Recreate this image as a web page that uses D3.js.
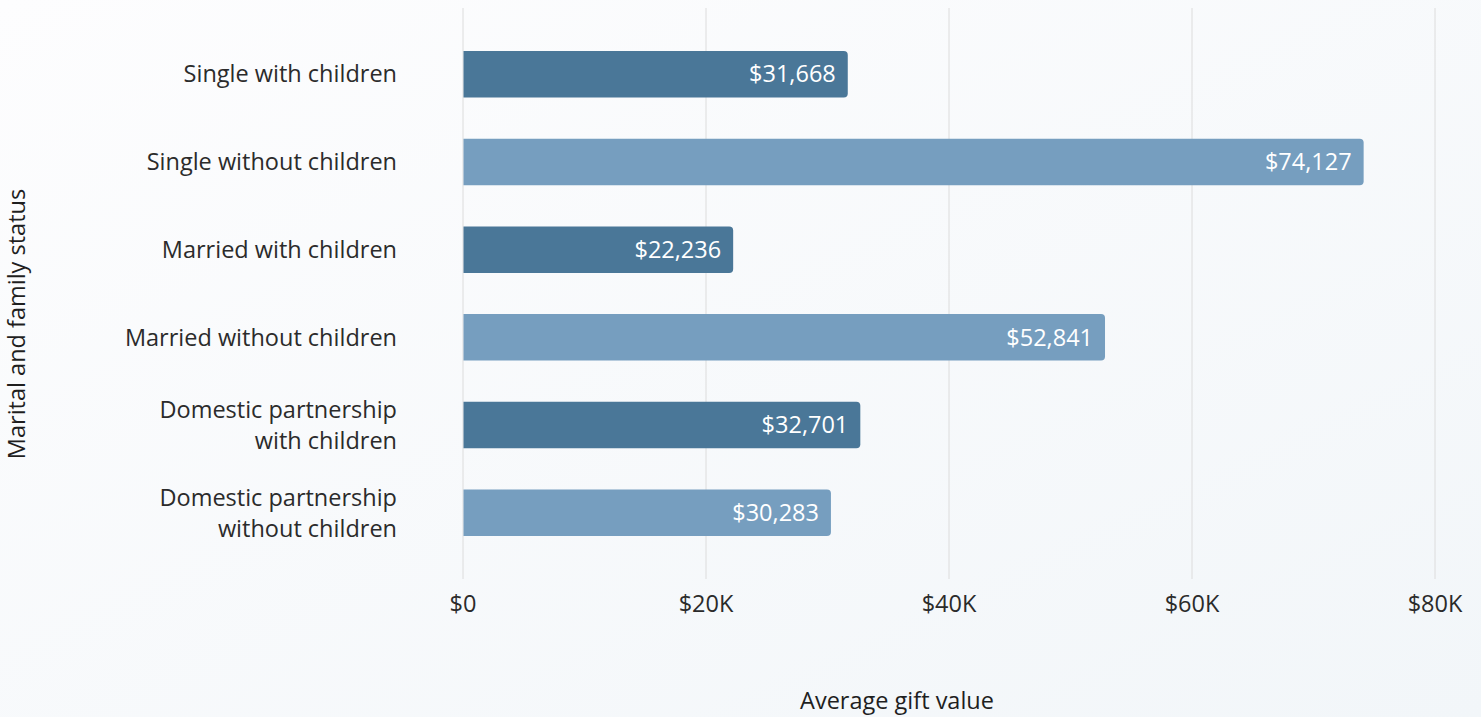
<!DOCTYPE html>
<html><head><meta charset="utf-8">
<script src="https://cdn.jsdelivr.net/npm/d3@7"></script>
<style>
html,body{margin:0;padding:0;}
body{width:1481px;height:717px;overflow:hidden;}
svg{display:block;}
</style></head>
<body>
<svg id="chart" width="1481" height="717"></svg>
<script>
const categories = [
  ["Single with children"],
  ["Single without children"],
  ["Married with children"],
  ["Married without children"],
  ["Domestic partnership", "with children"],
  ["Domestic partnership", "without children"]
];
const values = [31668, 74127, 22236, 52841, 32701, 30283];
const barColors = ["#4a7798", "#769ebf", "#4a7798", "#769ebf", "#4a7798", "#769ebf"];
const xTicks = [0, 20000, 40000, 60000, 80000];
const xTickLabels = ["$0", "$20K", "$40K", "$60K", "$80K"];
const xTitle = "Average gift value";
const yTitle = "Marital and family status";

const FONT = "'Open Sans', 'Noto Sans', sans-serif";
const FS = "23.5px";
const svg = d3.select("#chart");

const defs = svg.append("defs");
const grad = defs.append("linearGradient").attr("id","bg")
  .attr("x1","0").attr("y1","0").attr("x2","1").attr("y2","1");
grad.append("stop").attr("offset","0").attr("stop-color","#fdfdfe");
grad.append("stop").attr("offset","1").attr("stop-color","#f2f6f9");
svg.append("rect").attr("width",1481).attr("height",717).attr("fill","url(#bg)");

const x = d3.scaleLinear().domain([0, 80000]).range([463, 1435]);
const y = d3.scaleBand().domain(d3.range(categories.length)).range([8, 579])
  .paddingInner(0.47).paddingOuter(0.49);

// grid
svg.append("g").selectAll("line").data(xTicks).join("line")
  .attr("x1", d => x(d)).attr("x2", d => x(d))
  .attr("y1", 8).attr("y2", 579)
  .attr("stroke", "#dcdcdc").attr("stroke-width", 1);

// bars with rounded right corners
const r = 4;
function barPath(x0, x1, y0, h) {
  return `M${x0},${y0}H${x1 - r}Q${x1},${y0} ${x1},${y0 + r}V${y0 + h - r}Q${x1},${y0 + h} ${x1 - r},${y0 + h}H${x0}Z`;
}
svg.append("g").selectAll("path").data(values).join("path")
  .attr("d", (d, i) => barPath(x(0) + 0.5, x(d), y(i), y.bandwidth()))
  .attr("fill", (d, i) => barColors[i]);

// value labels
const fmt = d3.format("$,");
svg.append("g").selectAll("text").data(values).join("text")
  .attr("x", d => x(d) - 12)
  .attr("y", (d, i) => y(i) + y.bandwidth() / 2)
  .attr("dy", "0.35em")
  .attr("text-anchor", "end")
  .attr("fill", "#ffffff")
  .style("font-family", FONT).style("font-size", FS)
  .text(d => fmt(d));

// x axis tick labels
svg.append("g").selectAll("text").data(xTicks).join("text")
  .attr("x", d => x(d)).attr("y", 604).attr("dy", "0.35em")
  .attr("text-anchor", "middle").attr("fill", "#2b2b2b")
  .style("font-family", FONT).style("font-size", FS)
  .text((d, i) => xTickLabels[i]);

// y category labels
const lineH = 31;
const yl = svg.append("g").selectAll("text").data(categories).join("text")
  .attr("text-anchor", "end").attr("fill", "#2b2b2b")
  .style("font-family", FONT).style("font-size", FS);
yl.each(function(lines, i) {
  const t = d3.select(this);
  const cy = y(i) + y.bandwidth() / 2;
  lines.forEach((ln, k) => {
    t.append("tspan").attr("x", 397)
      .attr("y", cy + (k - (lines.length - 1) / 2) * lineH)
      .attr("dy", "0.35em").text(ln);
  });
});

// axis titles
svg.append("text").attr("x", 897).attr("y", 701).attr("dy", "0.35em")
  .attr("text-anchor", "middle").attr("fill", "#1f1f1f")
  .style("font-family", FONT).style("font-size", FS).text(xTitle);
svg.append("text").attr("transform", "translate(17,324) rotate(-90)")
  .attr("dy", "0.35em").attr("text-anchor", "middle").attr("fill", "#1f1f1f")
  .style("font-family", FONT).style("font-size", FS).text(yTitle);
</script>
</body></html>
